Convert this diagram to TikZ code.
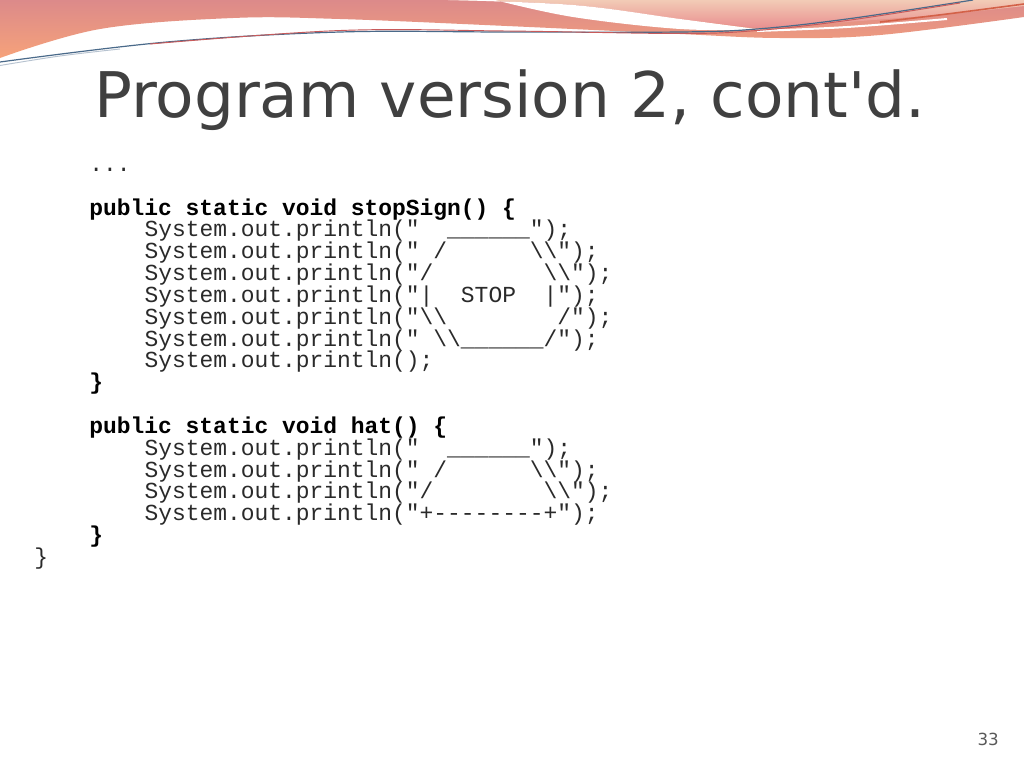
\documentclass[tikz,border=0pt]{standalone}
\usepackage{fontspec}
\setmonofont{Liberation Mono}
\newfontfamily\titlefont{DejaVu Sans}
\definecolor{hdrpink}{HTML}{DC8A8A}
\definecolor{hdrorange}{HTML}{F6A27A}
\definecolor{peachtop}{HTML}{F2CBB6}
\definecolor{peachbot}{HTML}{E98F8F}
\definecolor{linedark}{HTML}{4A6A8A}
\definecolor{linered}{HTML}{C85A5A}
\definecolor{titlegray}{HTML}{404040}
\definecolor{numgray}{HTML}{595959}
\definecolor{codegray}{HTML}{2A2A2A}
\newcommand\bs{\textbackslash}
\tikzset{
  codeline/.style={anchor=base west, inner sep=0pt, outer sep=0pt,
    font=\ttfamily\fontsize{17.2}{20}\selectfont, text=codegray},
  codebold/.style={codeline, font=\ttfamily\bfseries\fontsize{17.2}{20}\selectfont, text=black},
}
\begin{document}
\begin{tikzpicture}[x=0.75pt,y=-0.75pt]
\useasboundingbox (0,0) rectangle (1024,768);
\fill[white] (0,0) rectangle (1024,768);
% header: pink band
\shade[top color=hdrpink, bottom color=hdrorange]
  (0,0) -- (1024,0) -- (1024,17) -- plot[smooth, tension=0.6] coordinates
  {(1024,17) (880,35) (780,38) (680,34) (507,26) (340,19) (233,18) (100,29) (0,58)} -- cycle;
% peach region
\shade[top color=peachtop, bottom color=peachbot]
  (450,0) -- (1024,0) -- (1024,6) -- plot[smooth, tension=0.6] coordinates
  {(1024,6) (947,14) (847,22) (757,28)} -- plot[smooth, tension=0.6] coordinates
  {(757,28) (680,19) (573,5) (450,0)} -- cycle;
% white swoosh
\fill[white] plot[smooth, tension=0.6] coordinates {(448,0) (573,5) (680,19) (760,29.5)}
  -- plot[smooth, tension=0.6] coordinates {(760,29.5) (680,29) (573,17) (495,0)} -- cycle;
% thin white line
\draw[white, line width=1.5] plot[smooth, tension=0.6] coordinates {(757,31) (847,27) (947,19)};
% red line on right
\draw[linered!80!orange, line width=1.2] plot[smooth, tension=0.6] coordinates {(880,22) (947,14) (1024,4)};
% dark thin lines
\draw[linedark, line width=0.9] plot[smooth, tension=0.6] coordinates
  {(0,62) (167,42) (340,32) (507,32) (680,32) (757,29) (847,19) (973,0)};
\draw[linered, line width=0.7] plot[smooth, tension=0.6] coordinates
  {(150,44) (340,30.5) (507,31) (680,33.5) (757,30.5) (847,20.5) (960,3)};
\draw[linedark!40, line width=0.7] plot[smooth, tension=0.6] coordinates
  {(0,65.5) (60,56) (120,49)};
% title
\node[anchor=base west, inner sep=0pt, font=\titlefont\fontsize{47.2}{50}\selectfont, text=titlegray]
  (title) at (94,117) {Program version 2, cont\textquotesingle d.};
% code
\node[codeline] (l0) at (89.4,171.3) {...};
\node[codebold] (l2) at (89.4,215.0) {public static void stopSign() \{};
\node[codeline] (l3) at (144.5,236.8) {System.out.println("\ \ \_\_\_\_\_\_");};
\node[codeline] (l4) at (144.5,258.6) {System.out.println("\ /\ \ \ \ \ \ \bs\bs");};
\node[codeline] (l5) at (144.5,280.5) {System.out.println("/\ \ \ \ \ \ \ \ \bs\bs");};
\node[codeline] (l6) at (144.5,302.3) {System.out.println("|\ \ STOP\ \ |");};
\node[codeline] (l7) at (144.5,324.1) {System.out.println("\bs\bs\ \ \ \ \ \ \ \ /");};
\node[codeline] (l8) at (144.5,346.0) {System.out.println("\ \bs\bs\_\_\_\_\_\_/");};
\node[codeline] (l9) at (144.5,367.8) {System.out.println();};
\node[codebold] (l10) at (89.4,389.6) {\}};
\node[codebold] (l12) at (89.4,433.3) {public static void hat() \{};
\node[codeline] (l13) at (144.5,455.1) {System.out.println("\ \ \_\_\_\_\_\_");};
\node[codeline] (l14) at (144.5,477.0) {System.out.println("\ /\ \ \ \ \ \ \bs\bs");};
\node[codeline] (l15) at (144.5,498.8) {System.out.println("/\ \ \ \ \ \ \ \ \bs\bs");};
\node[codeline] (l16) at (144.5,520.6) {System.out.println("+-{}-{}-{}-{}-{}-{}-{}-+");};
\node[codebold] (l17) at (89.4,542.4) {\}};
\node[codeline] (l18) at (34.4,564.3) {\}};
% slide number
\node[anchor=base east, inner sep=0pt, font=\titlefont\fontsize{12.5}{14}\selectfont, text=numgray]
  (num) at (999,745) {33};
\end{tikzpicture}
\end{document}
